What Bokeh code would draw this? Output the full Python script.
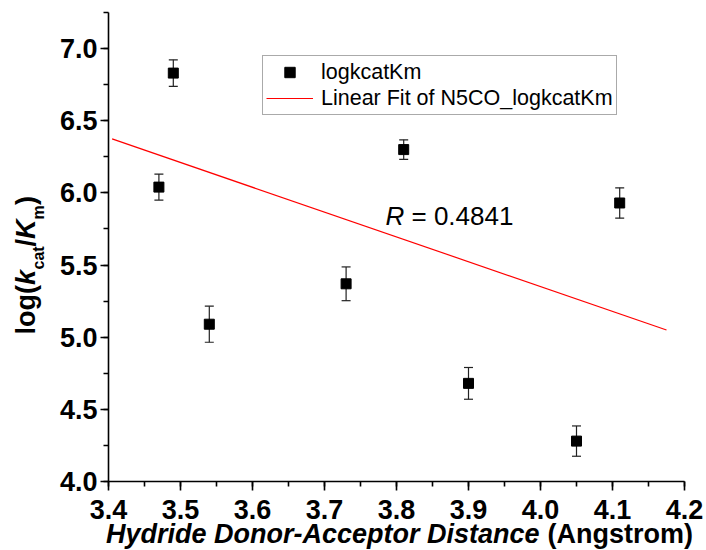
import math
from bokeh.plotting import figure
from bokeh.models import (ColumnDataSource, Whisker, TeeHead, Label, Range1d,
                          SingleIntervalTicker, NumeralTickFormatter)
from bokeh.embed import file_html
from bokeh.resources import INLINE

# ---- data ----
distance = [3.47, 3.49, 3.54, 3.73, 3.81, 3.90, 4.05, 4.11]
logkcatKm = [6.04, 6.83, 5.09, 5.37, 6.30, 4.68, 4.28, 5.93]
error = [0.09, 0.092, 0.125, 0.117, 0.068, 0.11, 0.105, 0.105]
fit_x = [3.405, 4.175]
fit_y = [6.374, 5.050]
r_value = "0.4841"
x_ticks_range = (3.4, 4.2)
y_ticks_range = (4.0, 7.25)

FONT = "Liberation Sans"
W, H = 706, 550
# axis placement on the canvas (pixels)
AX_LEFT, AX_RIGHT, AX_TOP, AX_BOTTOM = 108, 684, 12, 481
XS = (AX_RIGHT - AX_LEFT) / (x_ticks_range[1] - x_ticks_range[0])
YS = (AX_BOTTOM - AX_TOP) / (y_ticks_range[1] - y_ticks_range[0])
BASE_SHIFT = 0.42  # label anchor vs. alphabetic baseline, in em


def px2x(px):
    return x_ticks_range[0] + (px - AX_LEFT) / XS


def py2y(py):
    return y_ticks_range[0] - (py - AX_BOTTOM) / YS


p = figure(width=W, height=H, output_backend="svg", toolbar_location=None,
           x_range=Range1d(px2x(0), px2x(W)), y_range=Range1d(py2y(H), py2y(0)),
           min_border_left=0, min_border_right=0,
           min_border_top=0, min_border_bottom=0)
p.outline_line_color = None
p.grid.visible = False
p.background_fill_color = "white"
p.border_fill_color = "white"

src = ColumnDataSource(dict(
    x=distance, y=logkcatKm,
    upper=[v + e for v, e in zip(logkcatKm, error)],
    lower=[v - e for v, e in zip(logkcatKm, error)],
))

w = Whisker(source=src, base="x", upper="upper", lower="lower",
            line_color="#222222", line_width=1.2,
            upper_head=TeeHead(size=9, line_color="#222222", line_width=1.2),
            lower_head=TeeHead(size=9, line_color="#222222", line_width=1.2))
p.add_layout(w)

p.scatter("x", "y", source=src, marker="square", size=10,
          fill_color="black", line_color="black", legend_label="logkcatKm")
p.line(fit_x, fit_y, line_color="#ff0000", line_width=1.2,
       legend_label="Linear Fit of N5CO_logkcatKm")

# axes drawn at fixed positions, limited to their bounds
p.xaxis.fixed_location = y_ticks_range[0]
p.yaxis.fixed_location = x_ticks_range[0]
p.xaxis.bounds = x_ticks_range
p.yaxis.bounds = y_ticks_range
for ax, interval in ((p.xaxis[0], 0.1), (p.yaxis[0], 0.5)):
    ax.ticker = SingleIntervalTicker(interval=interval, num_minor_ticks=2)
    ax.formatter = NumeralTickFormatter(format="0.0")
    ax.axis_line_color = "black"
    ax.axis_line_width = 1.6
    ax.major_tick_line_color = "black"
    ax.minor_tick_line_color = "black"
    ax.major_tick_line_width = 1.6
    ax.minor_tick_line_width = 1.6
    ax.major_tick_in = 0
    ax.minor_tick_in = 0
    ax.major_label_text_font = FONT
    ax.major_label_text_font_style = "bold"
    ax.major_label_text_font_size = "27px"
    ax.major_label_text_color = "black"
p.xaxis.major_tick_out = 9
p.xaxis.minor_tick_out = 5
p.xaxis.major_label_standoff = 9
p.yaxis.major_tick_out = 8
p.yaxis.minor_tick_out = 5
p.yaxis.major_label_standoff = 3

# legend
lg = p.legend[0]
lg.location = (262, H - 115)
lg.border_line_color = "#555555"
lg.border_line_width = 1.5
lg.background_fill_color = "white"
lg.background_fill_alpha = 1.0
lg.padding = 3
lg.margin = 0
lg.spacing = 0
lg.glyph_width = 47
lg.glyph_height = 26
lg.label_height = 26
lg.label_standoff = 8
lg.label_text_font = FONT
lg.label_text_font_size = "21.5px"
lg.label_text_color = "black"


def text_label(txt, px, py, size, style="normal", align="left", angle=0.0):
    """Place a text whose alphabetic baseline starts at canvas pixel (px, py)."""
    shift = BASE_SHIFT * size
    if angle:
        px = px - shift
    else:
        py = py - shift
    p.add_layout(Label(x=px2x(px), y=py2y(py), text=txt, angle=angle,
                       text_font=FONT, text_font_style=style,
                       text_font_size=f"{size}px", text_baseline="alphabetic",
                       text_align=align, text_color="black"))


# R annotation
text_label("R", 385, 226, 26, "italic")
text_label("= " + r_value, 411, 226, 26)

# x axis title (mixed style)
text_label("Hydride Donor-Acceptor Distance", 539, 545, 27, "bold italic", "right")
text_label("(Angstrom)", 547, 545, 27, "bold")

# y axis title (mixed style, rotated)
ypieces = [
    ("log(", "bold", 27, 36.7, 334),
    ("k", "bold italic", 27, 36.7, 284.5),
    ("cat", "bold", 16, 44.5, 269),
    ("/", "bold", 27, 36.7, 246),
    ("K", "bold italic", 27, 36.7, 238.5),
    ("m", "bold", 16, 44.5, 219),
    (")", "bold", 27, 36.7, 204.5),
]
for txt, style, size, bx, by in ypieces:
    text_label(txt, bx, by, size, style, "left", math.pi / 2)

open("out.html", "w").write(file_html(p, INLINE))
